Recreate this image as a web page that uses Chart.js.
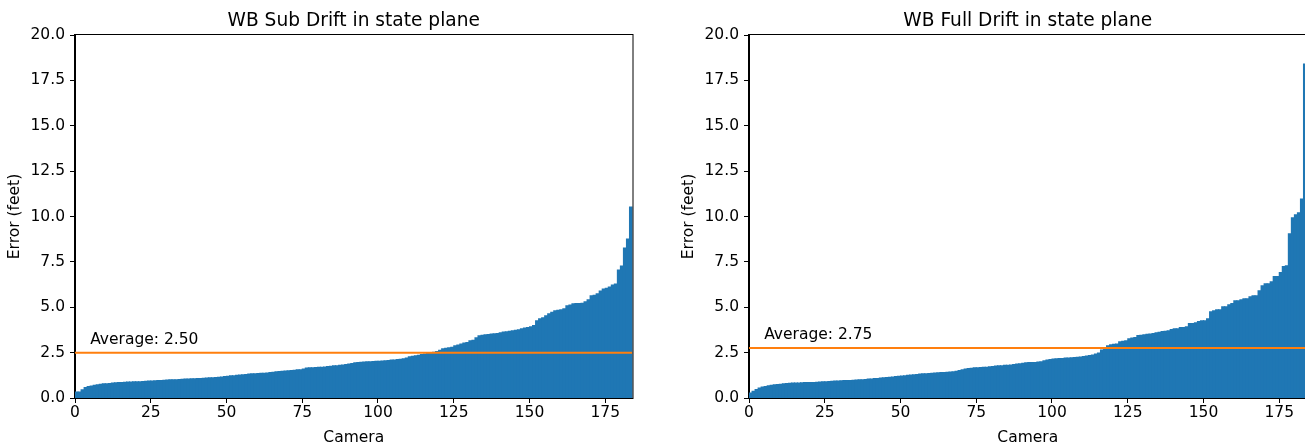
<!DOCTYPE html>
<html lang="en">

<head>
    <meta charset="UTF-8">
    <title>WB Drift in state plane</title>
    <style>
        html, body { margin: 0; padding: 0; background: #fff; overflow: hidden; }
        body { width: 1305px; height: 447px; position: relative; }
        canvas { position: absolute; top: 0; }
        #subChart { left: 0; }
        #fullChart { left: 652px; }
    </style>
</head>

<body>
    <canvas id="subChart" width="652" height="447"></canvas>
    <canvas id="fullChart" width="662" height="447"></canvas>

    <script src="https://cdn.jsdelivr.net/npm/chart.js"></script>

    <script>
        // drift per camera, sorted ascending
        const subDrift = [
            0.33, 0.33, 0.45, 0.58, 0.63, 0.66, 0.70, 0.73, 0.76, 0.78,
            0.79, 0.80, 0.82, 0.84, 0.85, 0.86, 0.87, 0.88, 0.88, 0.89,
            0.90, 0.90, 0.91, 0.92, 0.93, 0.94, 0.95, 0.96, 0.97, 0.98,
            0.99, 1.00, 1.00, 1.01, 1.02, 1.03, 1.04, 1.05, 1.06, 1.06,
            1.07, 1.08, 1.09, 1.10, 1.11, 1.12, 1.13, 1.14, 1.16, 1.18,
            1.20, 1.22, 1.23, 1.25, 1.27, 1.28, 1.30, 1.32, 1.33, 1.34,
            1.35, 1.36, 1.37, 1.38, 1.40, 1.42, 1.44, 1.46, 1.48, 1.49,
            1.50, 1.52, 1.53, 1.55, 1.56, 1.60, 1.65, 1.66, 1.67, 1.68,
            1.69, 1.70, 1.71, 1.73, 1.75, 1.77, 1.78, 1.80, 1.82, 1.84,
            1.87, 1.90, 1.94, 1.96, 1.97, 1.98, 2.00, 2.00, 2.01, 2.02,
            2.03, 2.04, 2.05, 2.07, 2.09, 2.10, 2.12, 2.14, 2.16, 2.20,
            2.27, 2.30, 2.33, 2.36, 2.39, 2.42, 2.45, 2.47, 2.52, 2.56,
            2.63, 2.71, 2.74, 2.77, 2.80, 2.88, 2.92, 2.98, 3.03, 3.06,
            3.15, 3.18, 3.32, 3.43, 3.46, 3.48, 3.50, 3.52, 3.54, 3.56,
            3.60, 3.63, 3.65, 3.68, 3.71, 3.73, 3.76, 3.82, 3.85, 3.88,
            3.93, 4.00, 4.26, 4.37, 4.42, 4.53, 4.64, 4.72, 4.81, 4.84,
            4.86, 4.92, 5.08, 5.13, 5.19, 5.20, 5.21, 5.22, 5.30, 5.41,
            5.63, 5.66, 5.74, 5.90, 6.01, 6.05, 6.12, 6.23, 6.28, 7.05,
            7.27, 8.26, 8.76, 10.52
        ];

        const fullDrift = [
            0.28, 0.37, 0.47, 0.55, 0.60, 0.64, 0.68, 0.70, 0.73, 0.75,
            0.76, 0.78, 0.80, 0.81, 0.82, 0.83, 0.83, 0.84, 0.85, 0.85,
            0.86, 0.86, 0.87, 0.88, 0.89, 0.90, 0.91, 0.92, 0.93, 0.94,
            0.95, 0.96, 0.97, 0.97, 0.98, 0.99, 1.00, 1.01, 1.02, 1.04,
            1.05, 1.07, 1.08, 1.10, 1.12, 1.13, 1.15, 1.16, 1.18, 1.20,
            1.21, 1.23, 1.25, 1.27, 1.28, 1.30, 1.32, 1.33, 1.34, 1.35,
            1.37, 1.38, 1.39, 1.40, 1.41, 1.42, 1.43, 1.45, 1.48, 1.51,
            1.56, 1.60, 1.62, 1.64, 1.66, 1.67, 1.68, 1.69, 1.70, 1.72,
            1.74, 1.76, 1.77, 1.78, 1.80, 1.81, 1.82, 1.84, 1.87, 1.89,
            1.91, 1.94, 1.95, 1.95, 1.96, 1.98, 2.00, 2.05, 2.10, 2.12,
            2.15, 2.16, 2.17, 2.18, 2.20, 2.21, 2.22, 2.23, 2.24, 2.26,
            2.28, 2.31, 2.34, 2.37, 2.42, 2.48, 2.65, 2.75, 2.88, 2.94,
            2.96, 2.98, 3.10, 3.12, 3.16, 3.27, 3.30, 3.33, 3.44, 3.46,
            3.49, 3.51, 3.53, 3.55, 3.60, 3.62, 3.66, 3.68, 3.71, 3.77,
            3.82, 3.82, 3.88, 3.88, 3.93, 4.10, 4.10, 4.15, 4.21, 4.26,
            4.26, 4.37, 4.75, 4.81, 4.86, 4.86, 5.03, 5.03, 5.14, 5.20,
            5.36, 5.36, 5.42, 5.47, 5.47, 5.58, 5.64, 5.64, 5.91, 6.19,
            6.30, 6.30, 6.41, 6.69, 6.69, 6.91, 7.24, 7.29, 9.05, 9.93,
            10.10, 10.20, 10.97, 18.40
        ];

        const subAverage = 2.50;
        const fullAverage = 2.75;

        const xTicks = [0, 25, 50, 75, 100, 125, 150, 175];
        const yTicks = [0, 2.5, 5, 7.5, 10, 12.5, 15, 17.5, 20];

        Chart.defaults.font.family = "'DejaVu Sans', sans-serif";
        Chart.defaults.color = '#000';

        const FONT = { size: 15.5 };

        // title, frame (top/right spines) and the "Average" text
        const decorations = {
            id: 'decorations',
            afterDraw(chart, args, opts) {
                const { ctx, chartArea: a, scales } = chart;
                ctx.save();
                ctx.strokeStyle = '#000';
                ctx.lineWidth = 1;
                ctx.strokeRect(a.left - 0.5, a.top - 0.5, a.right - a.left + 1, a.bottom - a.top + 1);

                ctx.fillStyle = '#000';
                ctx.textBaseline = 'alphabetic';
                ctx.font = "18.6px 'DejaVu Sans'";
                ctx.textAlign = 'center';
                ctx.fillText(opts.title, (a.left + a.right) / 2, 26);

                ctx.font = "15.5px 'DejaVu Sans'";
                ctx.textAlign = 'left';
                ctx.fillText('Average: ' + opts.average.toFixed(2),
                    scales.x.getPixelForValue(5), scales.y.getPixelForValue(opts.average + 0.5));
                ctx.restore();
            }
        };

        function buildChart(canvasId, title, values, average, padLeft, padRight) {
            const ctx = document.getElementById(canvasId);
            const n = values.length;

            new Chart(ctx, {
                type: 'bar',
                data: {
                    datasets: [{
                        type: 'bar',
                        data: values.map((v, i) => ({ x: i + 0.5, y: v })),
                        backgroundColor: '#1f77b4',
                        borderWidth: 0,
                        inflateAmount: 0.5,
                        barPercentage: 1,
                        categoryPercentage: 1,
                        order: 1
                    }, {
                        type: 'line',
                        data: [{ x: 0, y: average }, { x: n, y: average }],
                        borderColor: '#ff7f0e',
                        borderWidth: 2,
                        pointRadius: 0,
                        order: 0
                    }]
                },
                plugins: [decorations],
                options: {
                    responsive: false,
                    devicePixelRatio: 1,
                    animation: false,
                    layout: { padding: { left: padLeft, right: padRight, top: 35, bottom: 0 } },
                    plugins: {
                        legend: { display: false },
                        tooltip: { enabled: false },
                        decorations: { title: title, average: average }
                    },
                    scales: {
                        x: {
                            type: 'linear',
                            min: 0,
                            max: n,
                            offset: false,
                            afterBuildTicks: s => { s.ticks = xTicks.map(v => ({ value: v })); },
                            afterFit: s => { s.height = 49; },
                            grid: { display: true, drawOnChartArea: false, drawTicks: true, tickLength: 5, color: '#000', offset: false },
                            border: { display: true, color: '#000', width: 1 },
                            ticks: { font: FONT, padding: 1, maxRotation: 0, callback: v => v },
                            title: { display: true, text: 'Camera', font: FONT, padding: { top: 0, bottom: 0 } }
                        },
                        y: {
                            min: 0,
                            max: 20,
                            afterBuildTicks: s => { s.ticks = yTicks.map(v => ({ value: v })); },
                            afterFit: s => { s.width = 75; },
                            grid: { display: true, drawOnChartArea: false, drawTicks: true, tickLength: 5, color: '#000' },
                            border: { display: true, color: '#000', width: 1 },
                            ticks: { font: FONT, padding: 5, callback: v => v.toFixed(1) },
                            title: { display: true, text: 'Error (feet)', font: FONT, padding: { top: 6, bottom: 0 } }
                        }
                    }
                }
            });
        }

        buildChart('subChart', 'WB Sub Drift in state plane', subDrift, subAverage, 0, 19.5);
        buildChart('fullChart', 'WB Full Drift in state plane', fullDrift, fullAverage, 22, 7.5);
    </script>
</body>

</html>
